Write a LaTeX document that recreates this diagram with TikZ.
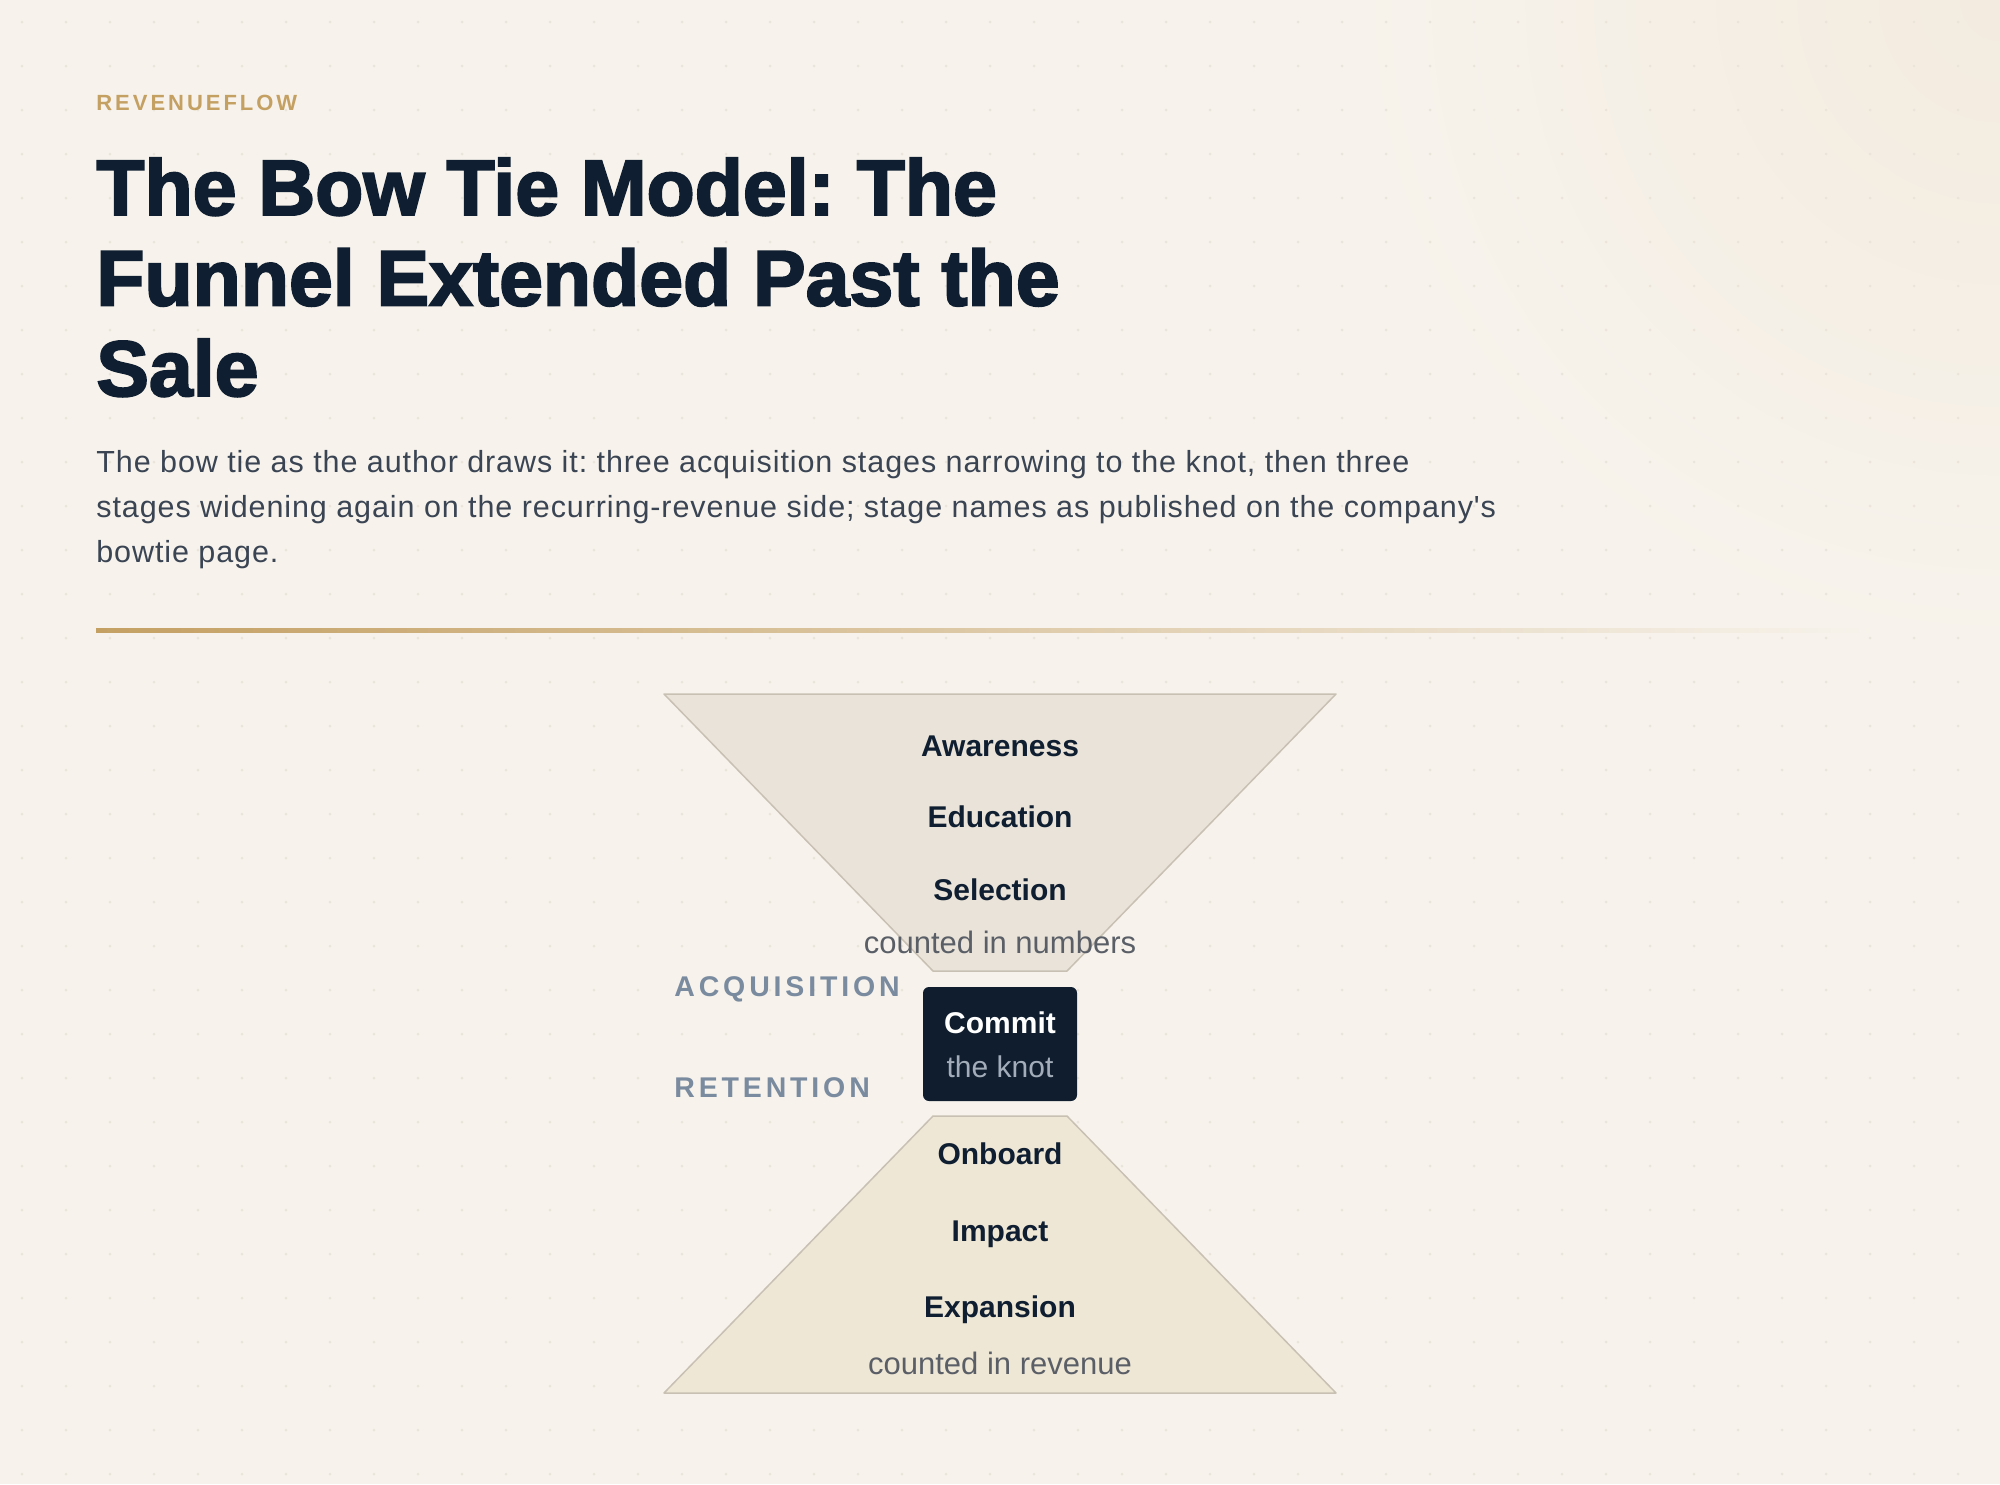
\documentclass[tikz,border=0pt]{standalone}
\usepackage{fontspec}
\setmainfont{Liberation Sans}
\newfontfamily\titlefont{Liberation Sans}[BoldFeatures={FakeBold=2.5}]
\newfontfamily\spacedfont{Liberation Sans}[LetterSpace=13.5]
\newfontfamily\subfont{Liberation Sans}[LetterSpace=3.0]
\definecolor{bg}{HTML}{F7F3EC}
\definecolor{glow}{HTML}{F3EBDF}
\definecolor{dotc}{HTML}{EAE4DA}
\definecolor{gold}{HTML}{C4A063}
\definecolor{ink}{HTML}{0F1E30}
\definecolor{slate}{HTML}{3A4453}
\definecolor{sidec}{HTML}{7A8BA0}
\definecolor{note}{HTML}{5A5F67}
\definecolor{topfill}{HTML}{EAE3D9}
\definecolor{botfill}{HTML}{EFE7D5}
\definecolor{edge}{HTML}{C8C0B3}
\definecolor{knot}{HTML}{0F1D2E}
\definecolor{knotsub}{HTML}{A3ADBA}
\begin{document}
\frenchspacing
\begin{tikzpicture}[x=0.5pt,y=-0.5pt,
  eyebrow/.style={anchor=base west,inner sep=0,text=gold,font=\spacedfont\bfseries\fontsize{11}{13}\selectfont},
  titleline/.style={anchor=base west,inner sep=0,text=ink,font=\titlefont\bfseries\fontsize{39.4}{45}\selectfont},
  subline/.style={anchor=base west,inner sep=0,text=slate,font=\subfont\fontsize{15.25}{22.5}\selectfont},
  stagelbl/.style={anchor=base,inner sep=0,text=ink,font=\bfseries\fontsize{15}{18}\selectfont},
  notelbl/.style={anchor=base,inner sep=0,text=note,font=\fontsize{15.5}{18}\selectfont},
  sidelbl/.style={anchor=base west,inner sep=0,text=sidec,font=\spacedfont\bfseries\fontsize{14.25}{18}\selectfont},
  knotbox/.style={fill=knot,rounded corners=3pt,minimum width=77pt,minimum height=57pt,inner sep=0},
  funnel/.style={draw=edge,line width=0.75pt,line join=round}]
\useasboundingbox (0,0) rectangle (2000,1484);
\fill[bg] (0,0) rectangle (2000,1484);
\shade[inner color=glow,outer color=bg] (2000,0) circle (650);
\foreach \i in {0,...,45}{\foreach \j in {0,...,33}{\fill[dotc] (22+44*\i,22+44*\j) circle (1.5);}}
% header
\node[eyebrow] (brand) at (96,110) {REVENUEFLOW};
\node[titleline] (title1) at (96,215) {The Bow Tie Model: The};
\node[titleline] (title2) at (96,305.5) {Funnel Extended Past the};
\node[titleline] (title3) at (96,396) {Sale};
\node[subline] (sub1) at (96,472) {The bow tie as the author draws it: three acquisition stages narrowing to the knot, then three};
\node[subline] (sub2) at (96,517) {stages widening again on the recurring-revenue side; stage names as published on the company's};
\node[subline] (sub3) at (96,562) {bowtie page.};
\shade[left color=gold,right color=bg] (96,628) rectangle (1876,632);
% bow tie
\filldraw[funnel,fill=topfill] (664,694) -- (1336,694) -- (1067,971) -- (933,971) -- cycle;
\filldraw[funnel,fill=botfill] (933,1116) -- (1067,1116) -- (1336,1393) -- (664,1393) -- cycle;
\node[stagelbl] (aw) at (1000,756.5) {Awareness};
\node[stagelbl] (ed) at (1000,827.5) {Education};
\node[stagelbl] (sel) at (1000,900) {Selection};
\node[notelbl] (cnum) at (1000,953) {counted in numbers};
\node[knotbox] (commit) at (1000,1044) {};
\node[stagelbl,text=white] (commitname) at (1000,1033) {Commit};
\node[notelbl,text=knotsub,font=\fontsize{15}{18}\selectfont] (committag) at (1000,1077.5) {the knot};
\node[sidelbl] (acq) at (674,996.5) {ACQUISITION};
\node[sidelbl] (ret) at (674,1097.5) {RETENTION};
\node[stagelbl] (onb) at (1000,1164) {Onboard};
\node[stagelbl] (imp) at (1000,1241.5) {Impact};
\node[stagelbl] (exp) at (1000,1317.5) {Expansion};
\node[notelbl] (crev) at (1000,1374.5) {counted in revenue};
\end{tikzpicture}
\end{document}
